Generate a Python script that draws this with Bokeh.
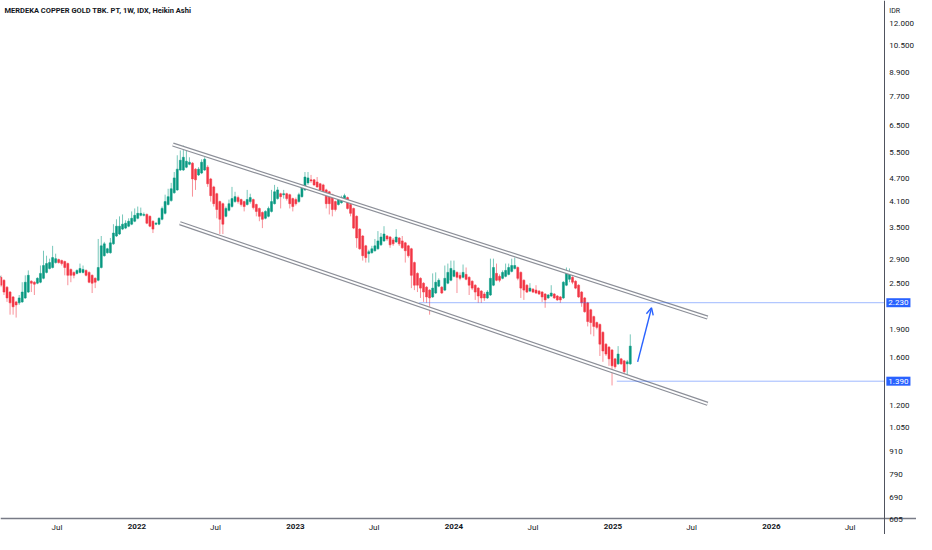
import numpy as np
import pandas as pd
from bokeh.plotting import figure
from bokeh.models import (Range1d, FixedTicker, CustomJSTickFormatter, Label,
                          Arrow, OpenHead, ColumnDataSource)
from bokeh.embed import file_html
from bokeh.resources import INLINE

TITLE = "MERDEKA COPPER GOLD TBK. PT, 1W, IDX, Heikin Ashi"
CURRENCY = "IDR"
last_week = "2025-02-10"

ha_open = [2599, 2599, 2553, 2449, 2378, 2309, 2241, 2228, 2241, 2295, 2378, 2538, 2523, 2508, 2523,
           2583, 2677, 2741, 2757, 2840, 2891, 2874, 2857, 2823, 2725, 2677, 2661, 2677, 2677, 2709,
           2677, 2630, 2583, 2553, 2757, 2960, 3014, 3014, 3179, 3333, 3373, 3474, 3495, 3536, 3579,
           3643, 3708, 3775, 3775, 3795, 3752, 3643, 3579,
           3579, 3686, 3820, 4030, 4125, 4325, 4400, 4960, 4960, 5045, 5135, 5170, 4985, 4815, 4870,
           4960, 5045, 4700, 4480, 4300, 4100,
           4050, 3752, 3890, 3980, 4100, 4200, 4150, 4100, 4030, 4100, 4150, 4030, 3935, 3840, 3708,
           3752, 3865, 4050, 4175, 4300, 4275, 4300, 4275, 4175, 4150, 4100, 4225, 4400, 4590, 4675,
           4675, 4615, 4565, 4535, 4400,
           4350, 4275, 4100, 4030, 4075, 4150, 4200, 4030, 3935, 3752, 3474, 3333, 3141, 2996, 3014,
           3050, 3086, 3160, 3236, 3333, 3313, 3255, 3217, 3294, 3236, 3198, 3141, 3086, 2840, 2661,
           2583, 2508, 2449, 2406, 2309, 2364, 2464, 2449, 2406, 2508, 2553, 2614, 2677, 2630, 2599,
           2645, 2599, 2538, 2478, 2435,
           2392, 2350, 2295, 2336, 2478, 2661, 2614, 2583, 2614, 2645, 2693, 2741, 2757, 2677, 2553,
           2478, 2392, 2420, 2406, 2392, 2378, 2350, 2295, 2322, 2350, 2322, 2309, 2295, 2478, 2568,
           2599, 2538, 2478, 2378, 2295, 2228, 2137, 2051, 1979, 1956, 1866, 1737, 1707, 1677, 1590,
           1543, 1590, 1571, 1543, 1543]
ha_close = [2614, 2478, 2378, 2295, 2228, 2176, 2201, 2295, 2378, 2523, 2630, 2508, 2493, 2583, 2661,
            2790, 2823, 2840, 2926, 2908, 2840, 2823, 2757, 2630, 2630, 2630, 2709, 2741, 2725, 2630,
            2523, 2508, 2523, 2757, 3141, 3179, 3086, 3198, 3393, 3536, 3536, 3579, 3600, 3643, 3708,
            3775, 3820, 3820, 3795, 3600, 3536, 3474, 3600,
            3708, 3935, 4100, 4225, 4430, 4730, 4985, 5260, 5355, 5230, 5200, 4700, 4675, 4985, 5200,
            5290, 4565, 4250, 4050, 3910, 3686,
            3579, 3935, 4050, 4175, 4225, 4100, 4030, 3980, 4150, 4200, 3955, 3865, 3752, 3686, 3865,
            3935, 4100, 4350, 4400, 4225, 4300, 4175, 4050, 3980, 4050, 4275, 4480, 4755, 4730, 4645,
            4535, 4480, 4400, 4300, 4050,
            4050, 3910, 3910, 4150, 4200, 4250, 3935, 3820, 3495, 3294, 3086, 2960, 2926, 3032, 3086,
            3141, 3236, 3313, 3373, 3274, 3160, 3179, 3313, 3179, 3104, 3050, 2960, 2630, 2478, 2478,
            2435, 2378, 2309, 2295, 2435, 2523, 2553, 2364, 2583, 2677, 2741, 2709, 2599, 2583, 2677,
            2568, 2478, 2435, 2378, 2322,
            2295, 2295, 2378, 2583, 2757, 2553, 2553, 2677, 2709, 2757, 2790, 2790, 2583, 2435, 2406,
            2378, 2435, 2378, 2364, 2350, 2309, 2268, 2336, 2364, 2295, 2268, 2268, 2523, 2677, 2645,
            2523, 2435, 2309, 2228, 2112, 1991, 1979, 1933, 1922, 1737, 1667, 1637, 1590, 1525, 1516,
            1637, 1543, 1472, 1562, 1717]
ha_high = [2774, 2630, 2568, 2464, 2392, 2322, 2255, 2336, 2523, 2630, 2709, 2553, 2538, 2599, 2790,
           3050, 2960, 2908, 3141, 2996, 2908, 2891, 2874, 2840, 2741, 2693, 2725, 2823, 2790, 2725,
           2693, 2645, 2599, 3274, 3333, 3217, 3104, 3294, 3579, 3686, 3752, 3795, 3664, 3708, 3865,
           3935, 3980, 3955, 3840, 3820, 3775, 3664, 3622,
           3730, 3980, 4275, 4430, 4590, 4900, 5420, 5580, 5745, 5615, 5355, 5200, 5015, 5045, 5290,
           5355, 5105, 4730, 4510, 4325, 4125,
           4075, 3980, 4150, 4480, 4350, 4250, 4175, 4125, 4400, 4300, 4175, 4050, 3955, 3865, 3890,
           3980, 4400, 4535, 4480, 4325, 4400, 4325, 4300, 4200, 4200, 4325, 4535, 4900, 4900, 4815,
           4700, 4755, 4590, 4565, 4430,
           4375, 4300, 4125, 4175, 4250, 4300, 4225, 4050, 3955, 3775, 3495, 3353, 3160, 3068, 3141,
           3274, 3433, 3393, 3536, 3353, 3333, 3294, 3474, 3313, 3333, 3217, 3160, 3104, 2857, 2677,
           2599, 2523, 2464, 2420, 2661, 2677, 2583, 2464, 2790, 2823, 2874, 2874, 2693, 2677, 2807,
           2757, 2614, 2553, 2493, 2449,
           2406, 2378, 2406, 2908, 2908, 2823, 2645, 2709, 2823, 2823, 2908, 2926, 2774, 2693, 2568,
           2493, 2508, 2435, 2478, 2406, 2392, 2364, 2350, 2478, 2364, 2336, 2322, 2538, 2757, 2741,
           2614, 2553, 2493, 2392, 2309, 2241, 2150, 2063, 1991, 1968, 1877, 1748, 1717, 1687, 1599,
           1717, 1599, 1580, 1580, 1843]
ha_low = [2478, 2449, 2336, 2241, 2075, 2075, 2039, 2201, 2228, 2282, 2364, 2378, 2336, 2493, 2508,
          2568, 2661, 2725, 2741, 2823, 2823, 2790, 2630, 2478, 2523, 2583, 2645, 2661, 2661, 2614,
          2508, 2364, 2435, 2538, 2741, 2943, 2996, 2996, 3160, 3313, 3353, 3453, 3474, 3515, 3558,
          3622, 3686, 3752, 3752, 3579, 3515, 3393, 3558,
          3558, 3664, 3795, 4005, 4100, 4300, 4375, 4930, 4930, 5015, 5105, 4225, 4400, 4785, 4840,
          4930, 4480, 4100, 3980, 3708, 3373,
          3373, 3730, 3865, 3955, 4075, 4050, 3980, 3865, 4005, 4050, 3910, 3752, 3643, 3495, 3686,
          3730, 3840, 4030, 4150, 3935, 4175, 4125, 3935, 3865, 4005, 4075, 4200, 4375, 4535, 4590,
          4510, 4455, 4375, 4250, 3935,
          3795, 3752, 3865, 4005, 4050, 4125, 3910, 3752, 3474, 3104, 3068, 2874, 2840, 2840, 2996,
          3032, 3068, 3141, 3217, 3236, 3104, 3141, 3198, 3141, 3086, 2840, 2926, 2435, 2406, 2378,
          2295, 2241, 2228, 2075, 2295, 2350, 2449, 2350, 2392, 2493, 2538, 2599, 2364, 2553, 2583,
          2553, 2336, 2406, 2268, 2228,
          2228, 2255, 2282, 2322, 2464, 2538, 2523, 2568, 2599, 2630, 2677, 2725, 2553, 2295, 2268,
          2364, 2378, 2364, 2350, 2336, 2241, 2163, 2282, 2309, 2282, 2255, 2228, 2282, 2464, 2523,
          2493, 2420, 2295, 2176, 2100, 1933, 1843, 1822, 1899, 1618, 1562, 1618, 1525, 1355, 1498,
          1534, 1534, 1438, 1438, 1534]

y_ticks = [605, 690, 790, 910, 1050, 1200, 1600, 1900, 2500, 2900, 3500, 4100, 4700, 5500,
           6500, 7700, 8900, 10500, 12000]
jul_ticks = ["2021-07-01", "2022-07-01", "2023-07-01", "2024-07-01", "2025-07-01", "2026-07-01"]
year_ticks = ["2022-01-01", "2023-01-01", "2024-01-01", "2025-01-01", "2026-01-01"]
year_labels = ["2022", "2023", "2024", "2025", "2026"]

channel_upper_x = ["2022-03-25", "2025-08-07"]
channel_upper_y = [5780, 2039]
channel_lower_x = ["2022-04-10", "2025-08-07"]
channel_lower_y = [3600, 1213]
level_prices = [2230, 1390]
level_starts = ["2023-10-13", "2025-01-10"]
level_texts = ["2.230", "1.390"]
arrow_x = ["2025-02-27", "2025-03-31"]
arrow_y = [1562, 2163]

x_start, x_end = "2021-02-21", "2026-12-01"   # visible time span
price_axis_at = "2026-09-18"                   # where the price scale begins
y_low, y_high = 552, 13770
time_axis_at = 608

GREEN = "#089981"
RED = "#f23645"
BLUE = "#2962ff"
TEXT = "#131722"
FONT = "Roboto"
W, H = 916, 534


def ms(d):
    return pd.Timestamp(d).timestamp() * 1000.0


n = len(ha_close)
dates = pd.date_range(end=last_week, periods=n, freq="W-MON")
df = pd.DataFrame(dict(date=dates, open=ha_open[:n], close=ha_close, high=ha_high[:n], low=ha_low[:n]))
df["color"] = np.where(df["close"] >= df["open"], GREEN, RED)
src = ColumnDataSource(df)

p = figure(width=W, height=H, x_axis_type="datetime", y_axis_type="log",
           y_axis_location="right",
           x_range=Range1d(ms(x_start), ms(x_end)), y_range=Range1d(y_low, y_high),
           output_backend="svg", toolbar_location=None, min_border=0,
           background_fill_color="white", border_fill_color="white")
p.outline_line_color = None
p.xgrid.visible = False
p.ygrid.visible = False

# candles
week = 7 * 24 * 3600 * 1000
p.segment(x0="date", y0="high", x1="date", y1="low", line_color="color", line_alpha=0.55,
          line_width=1, source=src)
p.vbar(x="date", width=week * 0.66, top="open", bottom="close", fill_color="color",
       line_color="color", line_width=0.5, source=src)

# channel
for cx, cy in ((channel_upper_x, channel_upper_y), (channel_lower_x, channel_lower_y)):
    xs = [ms(d) for d in cx]
    p.line(xs, cy, line_color="#8c8f98", line_width=4.2)
    p.line(xs, cy, line_color="white", line_width=1.8)

# horizontal levels
p.segment(x0=[ms(d) for d in level_starts], y0=level_prices,
          x1=[ms(price_axis_at)] * len(level_prices), y1=level_prices,
          line_color=BLUE, line_alpha=0.45, line_width=1)

# arrow
p.add_layout(Arrow(end=OpenHead(size=7, line_color=BLUE, line_width=1.4),
                   x_start=ms(arrow_x[0]), y_start=arrow_y[0],
                   x_end=ms(arrow_x[1]), y_end=arrow_y[1],
                   line_color=BLUE, line_width=1.4))

# price axis
ya = p.yaxis[0]
ya.fixed_location = ms(price_axis_at)
ya.ticker = FixedTicker(ticks=y_ticks, minor_ticks=[])
ya.formatter = CustomJSTickFormatter(code="""
const v = Math.round(tick);
if (v < 1000) { return String(v); }
const t = Math.floor(v / 1000); const r = v % 1000;
return t + '.' + String(r).padStart(3, '0');
""")
ya.major_tick_line_color = None
ya.minor_tick_line_color = None
ya.major_tick_out = 0
ya.major_tick_in = 0
ya.minor_tick_out = 0
ya.axis_line_color = "#50535e"
ya.major_label_text_font = FONT
ya.major_label_text_font_size = "8px"
ya.major_label_text_color = TEXT
ya.major_label_standoff = 5

# time axis
xa = p.xaxis[0]
xa.fixed_location = time_axis_at
xa.ticker = FixedTicker(ticks=[ms(d) for d in jul_ticks], minor_ticks=[])
xa.formatter = CustomJSTickFormatter(code="return 'Jul';")
xa.major_tick_line_color = None
xa.minor_tick_line_color = None
xa.major_tick_out = 0
xa.major_tick_in = 0
xa.minor_tick_out = 0
xa.axis_line_color = "#787b86"
xa.axis_line_width = 1.5
xa.major_label_text_font = FONT
xa.major_label_text_font_size = "8px"
xa.major_label_text_color = TEXT
xa.major_label_standoff = 5

for d, t in zip(year_ticks, year_labels):
    p.add_layout(Label(x=ms(d), y=11, x_units="data", y_units="screen", text=t,
                       text_align="center", text_baseline="top", text_font=FONT,
                       text_font_size="8px", text_font_style="bold", text_color=TEXT))

for yv, t in zip(level_prices, level_texts):
    p.add_layout(Label(x=ms(price_axis_at), y=yv, x_units="data", y_units="data", text=t,
                       x_offset=2, text_align="left", text_baseline="middle", text_font=FONT,
                       text_font_size="8px", text_color="white",
                       background_fill_color=BLUE, padding=2))

p.add_layout(Label(x=ms(price_axis_at), y=H - 10, x_units="data", y_units="screen", text=CURRENCY,
                   x_offset=5, text_align="left", text_baseline="middle", text_font=FONT,
                   text_font_size="7px", text_color=TEXT))

p.add_layout(Label(x=4, y=H - 10, x_units="screen", y_units="screen", text=TITLE,
                   text_align="left", text_baseline="middle", text_font=FONT,
                   text_font_size="7.5px", text_font_style="bold", text_color=TEXT))

open("out.html", "w").write(file_html(p, INLINE))
